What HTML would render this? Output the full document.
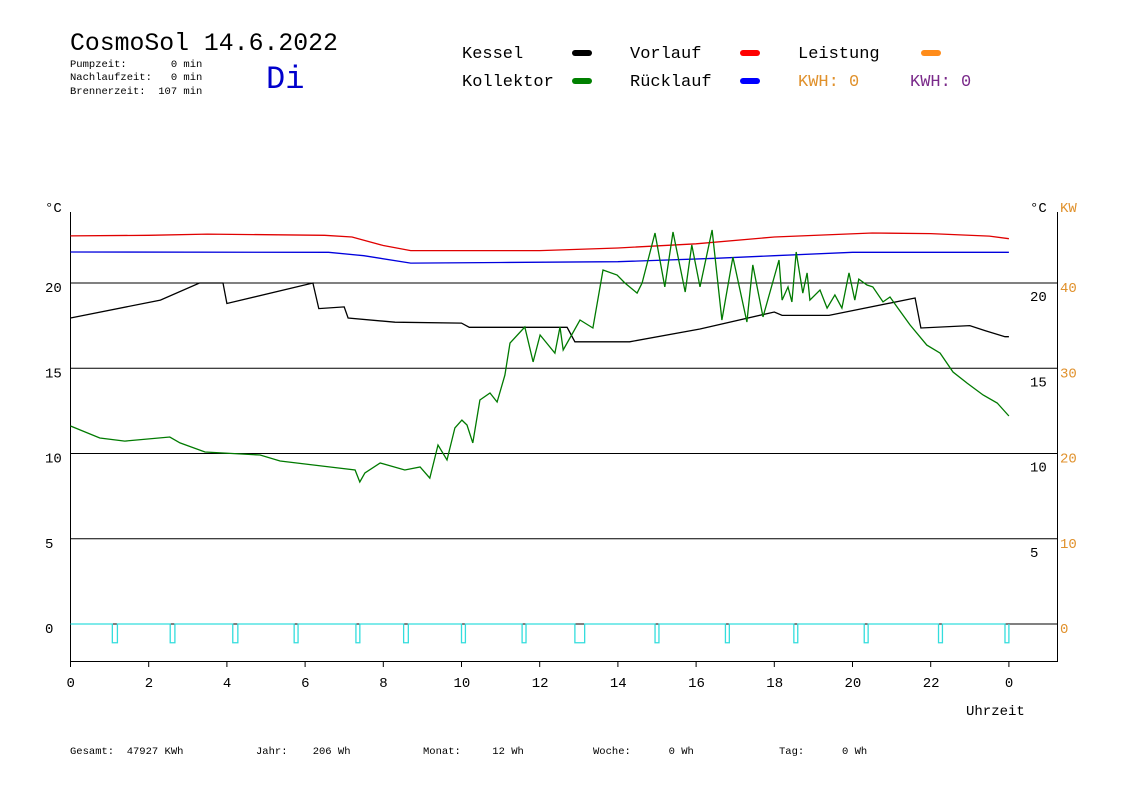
<!DOCTYPE html>
<html><head><meta charset="utf-8"><style>
body{margin:0;background:#fff;}
svg{display:block;font-family:"Liberation Mono",monospace;}
.pre{white-space:pre;}
</style></head><body>
<svg width="1148" height="812" viewBox="0 0 1148 812">
<g>
<text x="70" y="50" font-size="24.8" fill="#000">CosmoSol 14.6.2022</text>
<text class="pre" x="70" y="67" font-size="10.5" fill="#000">Pumpzeit:       0 min</text>
<text class="pre" x="70" y="80" font-size="10.5" fill="#000">Nachlaufzeit:   0 min</text>
<text class="pre" x="70" y="94" font-size="10.5" fill="#000">Brennerzeit:  107 min</text>
<text x="266" y="88" font-size="32" fill="#0000cc">Di</text>
</g>
<g font-size="17">
<text x="462" y="58">Kessel</text>
<rect x="572" y="50" width="20" height="6" rx="3" fill="#000"/>
<text x="630" y="58">Vorlauf</text>
<rect x="740" y="50" width="20" height="6" rx="3" fill="#f00"/>
<text x="798" y="58">Leistung</text>
<rect x="921" y="50" width="20" height="6" rx="3" fill="#ff8c1a"/>
<text x="462" y="86">Kollektor</text>
<rect x="572" y="78" width="20" height="6" rx="3" fill="#008000"/>
<text x="630" y="86">Rücklauf</text>
<rect x="740" y="78" width="20" height="6" rx="3" fill="#0000ff"/>
<text x="798" y="86" fill="#e0912c">KWH: 0</text>
<text x="910" y="86" fill="#7a2a8a">KWH: 0</text>
</g>
<g id="plot"></g>
<g font-size="10.5">
<text class="pre" x="70" y="754">Gesamt:  47927 KWh</text>
<text class="pre" x="256" y="754">Jahr:    206 Wh</text>
<text class="pre" x="423" y="754">Monat:     12 Wh</text>
<text class="pre" x="593" y="754">Woche:      0 Wh</text>
<text class="pre" x="779" y="754">Tag:      0 Wh</text>
</g>
</svg>
<script>
const xTicks = [0,2,4,6,8,10,12,14,16,18,20,22,24];
const xTickLabels = ["0","2","4","6","8","10","12","14","16","18","20","22","0"];
const yGrid = [0,5,10,15,20];
const yRightKW = ["0","10","20","30","40"];
const kesselH = [0,2.3,3.3,3.9,4.0,6.2,6.35,7.0,7.1,8.3,10,10.2,12.7,12.9,14.3,16.1,18.0,18.2,19.4,21.6,21.75,23.0,23.4,23.9,24];
const kesselT = [17.95,19.0,20.0,20.0,18.8,20.0,18.5,18.6,17.95,17.7,17.65,17.4,17.4,16.55,16.55,17.3,18.3,18.1,18.1,19.12,17.36,17.5,17.2,16.85,16.85];
const vorlaufH = [0,2,3.5,6.5,7.2,8,8.7,12,14,16,18,20.5,22,23.5,24];
const vorlaufT = [22.76,22.8,22.87,22.8,22.7,22.2,21.9,21.9,22.05,22.3,22.7,22.93,22.9,22.75,22.6];
const ruecklaufH = [0,6.6,7.5,8.7,11,14,16.5,18,20,24];
const ruecklaufT = [21.82,21.8,21.6,21.17,21.2,21.25,21.45,21.6,21.8,21.8];
const kollektorH = [0,0.75,1.39,2.54,2.8,3.44,4.85,5.36,6.64,7.28,7.4,7.53,7.92,8.55,8.94,9.19,9.4,9.63,9.83,10.01,10.14,10.29,10.47,10.73,10.91,11.11,11.24,11.62,11.83,12.01,12.39,12.52,12.6,13.03,13.36,13.62,13.98,14.18,14.49,14.62,14.95,15.2,15.41,15.72,15.89,16.1,16.41,16.66,16.94,17.3,17.45,17.71,18.12,18.2,18.35,18.45,18.56,18.73,18.84,18.91,19.17,19.35,19.55,19.73,19.91,20.06,20.16,20.37,20.52,20.78,20.96,21.16,21.47,21.9,22.24,22.57,22.93,23.34,23.7,24];
const kollektorT = [11.61,10.91,10.73,10.97,10.62,10.09,9.91,9.56,9.21,9.03,8.33,8.86,9.44,9.03,9.21,8.56,10.5,9.62,11.5,11.96,11.67,10.62,13.14,13.55,13.02,14.6,16.48,17.42,15.37,16.95,15.89,17.42,16.07,17.83,17.36,20.76,20.47,20.0,19.41,20.0,22.93,19.77,22.99,19.47,22.23,19.77,23.11,17.83,21.52,17.71,21.06,18.01,21.35,19.0,19.77,18.89,21.82,19.41,20.59,19.0,19.59,18.53,19.3,18.53,20.59,19.0,20.23,19.88,19.77,18.89,19.18,18.53,17.54,16.36,15.89,14.78,14.13,13.43,12.96,12.2];
const pumpStart = [1.07,2.55,4.15,5.72,7.3,8.52,10.0,11.55,12.9,14.95,16.75,18.5,20.3,22.2,23.9];
const pumpDur = [0.13,0.12,0.13,0.1,0.1,0.12,0.1,0.1,0.25,0.1,0.1,0.1,0.1,0.1,0.1];
const pumpLevel = -1.1;

const NS="http://www.w3.org/2000/svg";
const plot=document.getElementById('plot');
const X=h=>70.5+h*39.1;
const Y=t=>624-t*17.05;
function mk(tag,attrs,parent){const e=document.createElementNS(NS,tag);for(const k in attrs)e.setAttribute(k,attrs[k]);(parent||plot).appendChild(e);return e;}
function txt(x,y,s,fill,size){const e=mk('text',{x:x,y:y,'font-size':size||14,fill:fill||'#000'});e.textContent=s;return e;}

yGrid.forEach((v,i)=>{
  const g=mk('line',{x1:70,x2:1057,y1:Y(v),y2:Y(v),stroke:'#000','stroke-width':1});
  
  
  const l=txt(45,Y(v)+9,String(v));
  
  
  if(v>0){const r=txt(1030,Y(v)+18,String(v));
  
  }
  const k=txt(1060,Y(v)+9,yRightKW[i],'#e0912c');
  
  
});
const u1=txt(45,212,'°C');


const u2=txt(1030,212,'°C');


const u3=txt(1060,212,'KW','#e0912c');


const ax1=mk('line',{x1:70.5,x2:70.5,y1:212,y2:661,stroke:'#000'});


const ax2=mk('line',{x1:1057.5,x2:1057.5,y1:212,y2:661,stroke:'#000'});


const ax3=mk('line',{x1:70,x2:1058,y1:661.5,y2:661.5,stroke:'#000'});


xTicks.forEach((h,i)=>{
  const t=mk('line',{x1:X(h),x2:X(h),y1:661,y2:667,stroke:'#000'});
  
  
  const l=txt(X(h)-4-(xTickLabels[i].length-1)*4,687,xTickLabels[i]);
  
  
});
const ut=txt(966,715,'Uhrzeit');



function series(H,T,color,name){
  let d='';
  for(let i=0;i<H.length;i++) d+=(i?'L':'M')+X(H[i]).toFixed(1)+' '+Y(T[i]).toFixed(1);
  const p=mk('path',{d:d,fill:'none',stroke:color,'stroke-width':1.3});
  
  
}
const bl=mk('line',{x1:X(24),x2:1057,y1:Y(0),y2:Y(0),stroke:'#000'});


let pd='M'+X(0)+' '+Y(0);
pumpStart.forEach((s,i)=>{
  const a=X(s),b=X(s+pumpDur[i]);
  pd+='L'+a+' '+Y(0)+'L'+a+' '+Y(pumpLevel)+'L'+b+' '+Y(pumpLevel)+'L'+b+' '+Y(0);
});
pd+='L'+X(24)+' '+Y(0);
const pp=mk('path',{d:pd,fill:'none',stroke:'#33dddd','stroke-width':1.3});



series(vorlaufH,vorlaufT,'#e00000','vorlauf-series');
series(ruecklaufH,ruecklaufT,'#0000dd','ruecklauf-series');
series(kesselH,kesselT,'#000','kessel-series');
series(kollektorH,kollektorT,'#007a00','kollektor-series');
</script>
</body></html>
